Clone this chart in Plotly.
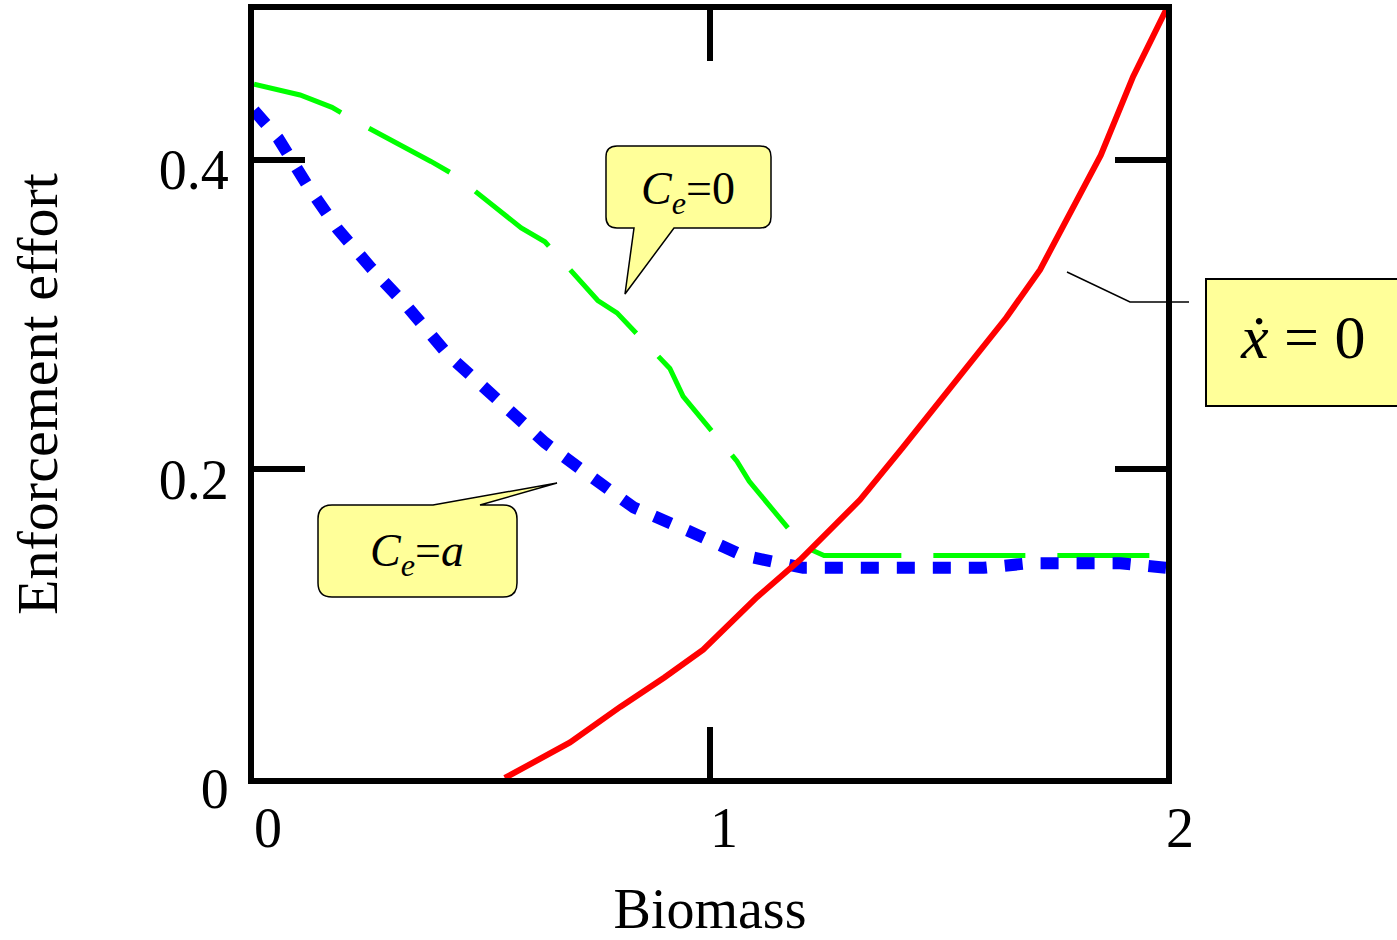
import plotly.graph_objects as go

# ---- data ----
red_x = [0.55, 0.60, 0.693, 0.803, 0.90, 0.985, 1.103, 1.197, 1.329, 1.423, 1.542, 1.65, 1.724, 1.857, 1.928, 2.0]
red_y = [0.0, 0.008, 0.023, 0.046, 0.065, 0.083, 0.117, 0.141, 0.180, 0.214, 0.258, 0.298, 0.329, 0.403, 0.454, 0.497]

green_x = [0.0, 0.101, 0.171, 0.230, 0.388, 0.441, 0.586, 0.638, 0.754, 0.796, 0.912, 0.941, 1.059, 1.086, 1.204, 1.25, 2.0]
green_y = [0.449, 0.442, 0.434, 0.424, 0.399, 0.390, 0.356, 0.347, 0.309, 0.301, 0.265, 0.247, 0.205, 0.192, 0.150, 0.144, 0.144]

blue_x = [0.0, 0.053, 0.118, 0.184, 0.257, 0.336, 0.425, 0.544, 0.638, 0.730, 0.833, 0.952, 1.072, 1.138, 1.204, 1.60, 1.70, 1.90, 2.0]
blue_y = [0.432, 0.414, 0.383, 0.355, 0.330, 0.305, 0.274, 0.241, 0.217, 0.197, 0.175, 0.160, 0.144, 0.140, 0.136, 0.136, 0.139, 0.139, 0.136]

x_ticks = [0, 1, 2]
x_tick_text = ["0", "1", "2"]
y_ticks = [0, 0.2, 0.4]
y_tick_text = ["0", "0.2", "0.4"]

FONT = "Liberation Serif, Times New Roman, serif"
W, H = 1397, 940
L, R, T, B = 254, 231, 10, 162
PW, PH = W - L - R, H - T - B


def px(xp, yp):
    return (xp - L) / PW, (H - B - yp) / PH


def path(points, close=False):
    parts = []
    for cmd, pts in points:
        coords = []
        for (a, b) in pts:
            u, v = px(a, b)
            coords.append(f"{u:.5f},{v:.5f}")
        parts.append(cmd + " " + " ".join(coords))
    s = " ".join(parts)
    return s + (" Z" if close else "")


fig = go.Figure()
fig.add_trace(go.Scatter(x=green_x, y=green_y, mode="lines",
                         line=dict(color="#00FF00", width=5, dash="92px,32px"),
                         showlegend=False, hoverinfo="skip"))
fig.add_trace(go.Scatter(x=blue_x, y=blue_y, mode="lines",
                         line=dict(color="#0000FF", width=12, dash="18px,18px"),
                         showlegend=False, hoverinfo="skip"))
fig.add_trace(go.Scatter(x=red_x, y=red_y, mode="lines",
                         line=dict(color="#FF0000", width=6),
                         showlegend=False, hoverinfo="skip"))

YEL = "#FFFF99"
# callout C_e = 0
b1 = path([
    ("M", [(617, 146)]), ("L", [(760, 146)]), ("Q", [(771, 146), (771, 157)]),
    ("L", [(771, 217)]), ("Q", [(771, 228), (760, 228)]),
    ("L", [(674, 228)]), ("L", [(625, 294)]), ("L", [(634, 228)]),
    ("L", [(617, 228)]), ("Q", [(606, 228), (606, 217)]),
    ("L", [(606, 157)]), ("Q", [(606, 146), (617, 146)]),
], close=True)
# callout C_e = a
b2 = path([
    ("M", [(332, 505)]), ("L", [(433, 505)]), ("L", [(557, 483)]), ("L", [(480, 505)]),
    ("L", [(503, 505)]), ("Q", [(517, 505), (517, 519)]),
    ("L", [(517, 583)]), ("Q", [(517, 597), (503, 597)]),
    ("L", [(332, 597)]), ("Q", [(318, 597), (318, 583)]),
    ("L", [(318, 519)]), ("Q", [(318, 505), (332, 505)]),
], close=True)
b3 = path([("M", [(1206, 279)]), ("L", [(1402, 279)]), ("L", [(1402, 406)]), ("L", [(1206, 406)])], close=True)
lead = path([("M", [(1067, 272)]), ("L", [(1130, 302)]), ("L", [(1189, 302)])])

shapes = [
    dict(type="path", xref="paper", yref="paper", path=b1, fillcolor=YEL, line=dict(color="black", width=1.5)),
    dict(type="path", xref="paper", yref="paper", path=b2, fillcolor=YEL, line=dict(color="black", width=1.5)),
    dict(type="path", xref="paper", yref="paper", path=b3, fillcolor=YEL, line=dict(color="black", width=2)),
    dict(type="path", xref="paper", yref="paper", path=lead, line=dict(color="black", width=1.5)),
]

annotations = []
for text, (xp, yp), size in [
    ("<i>C<sub>e</sub></i>=0", (688, 192), 46),
    ("<i>C<sub>e</sub></i>=<i>a</i>", (417, 554), 46),
    ("<i>x\u0307</i> = 0", (1303, 337), 62),
]:
    u, v = px(xp, yp)
    annotations.append(dict(x=u, y=v, xref="paper", yref="paper", text=text, showarrow=False,
                            xanchor="center", yanchor="middle",
                            font=dict(family=FONT, size=size, color="black")))

axis_common = dict(showline=True, linewidth=6, linecolor="black", mirror="ticks",
                   ticks="inside", ticklen=51, tickwidth=6, tickcolor="black",
                   showgrid=False, zeroline=False,
                   tickfont=dict(family=FONT, size=56, color="black"))

fig.update_layout(
    width=W, height=H,
    margin=dict(l=L, r=R, t=T, b=B, autoexpand=False),
    paper_bgcolor="white", plot_bgcolor="white",
    xaxis=dict(range=[0, 2], tickvals=x_ticks, ticktext=x_tick_text,
               ticklabelshift=14, ticklabelstandoff=-4,
               title=dict(text="Biomass", font=dict(family=FONT, size=56, color="black"), standoff=54),
               **axis_common),
    yaxis=dict(range=[0, 0.497], tickvals=y_ticks, ticktext=y_tick_text,
               ticklabelshift=10, ticklabelstandoff=8,
               title=dict(text="Enforcement effort", font=dict(family=FONT, size=58, color="black"), standoff=84),
               **axis_common),
    shapes=shapes,
    annotations=annotations,
)

fig.write_html("out.html", config={"displayModeBar": False},
               post_script="document.body.style.margin='0';")
